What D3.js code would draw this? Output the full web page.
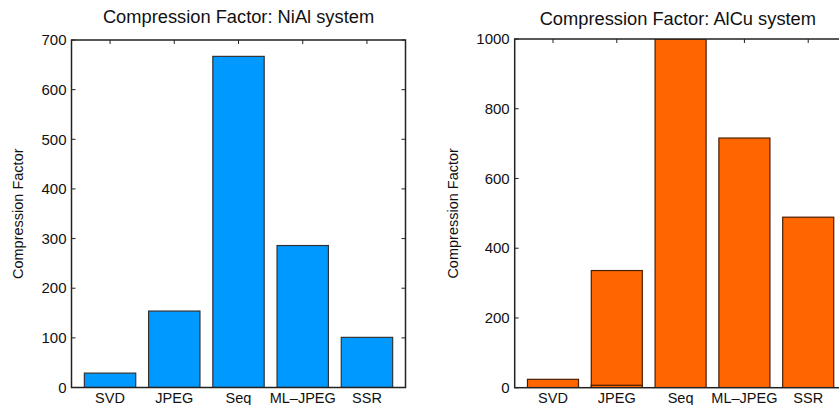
<!DOCTYPE html>
<html><head><meta charset="utf-8">
<script src="https://cdn.jsdelivr.net/npm/d3@7"></script>
<style>body{margin:0;background:#fff}svg{display:block}text{font-family:"Liberation Sans",Arial,sans-serif;fill:#111}</style>
</head><body>
<script>
const categories = ["SVD","JPEG","Seq","ML\u2013JPEG","SSR"];
const nialValues = [29, 154, 667, 286, 101];
const alcuValues = [24, 336, 1000, 716, 489];
const alcuInner  = [0, 7, 0, 0, 0];
const nialTicks = [0,100,200,300,400,500,600,700];
const alcuTicks = [0,200,400,600,800,1000];
const titles = ["Compression Factor: NiAl system","Compression Factor: AlCu system"];
const yLabel = "Compression Factor";

const W=839,H=405;
const svg=d3.select("body").append("svg").attr("width",W).attr("height",H);

function panel(cfg){
  const x=d3.scaleLinear().domain([0.4,5.6]).range([cfg.left,cfg.right]);
  const y=d3.scaleLinear().domain([0,cfg.max]).range([cfg.bottom,cfg.top]);
  const g=svg.append("g");
  const step=x(2)-x(1), bw=step*0.8;
  const clipId="clip"+cfg.id;
  svg.append("clipPath").attr("id",clipId).append("rect")
    .attr("x",cfg.left).attr("y",cfg.top).attr("width",cfg.right-cfg.left).attr("height",cfg.bottom-cfg.top);
  const tickLen=4;
  g.append("g").selectAll("line").data(categories).join("line")
    .attr("x1",(d,i)=>x(i+1)).attr("x2",(d,i)=>x(i+1))
    .attr("y1",cfg.top).attr("y2",cfg.top+tickLen).attr("stroke","#222").attr("stroke-width",1);
  g.append("g").selectAll("line").data(cfg.ticks).join("line")
    .attr("x1",cfg.left).attr("x2",cfg.left+tickLen).attr("y1",d=>y(d)).attr("y2",d=>y(d))
    .attr("stroke","#222");
  g.append("g").selectAll("line").data(cfg.ticks).join("line")
    .attr("x1",cfg.right).attr("x2",cfg.right-tickLen).attr("y1",d=>y(d)).attr("y2",d=>y(d))
    .attr("stroke","#222");
  const bars=g.append("g").attr("clip-path",`url(#${clipId})`);
  bars.selectAll("rect.b").data(cfg.values).join("rect").attr("class","b")
    .attr("x",(d,i)=>x(i+1)-bw/2).attr("width",bw)
    .attr("y",d=>y(d)).attr("height",d=>y(0)-y(d))
    .attr("fill",cfg.fill).attr("stroke",cfg.edge).attr("stroke-width",1.2);
  if(cfg.inner){
    bars.selectAll("rect.i").data(cfg.inner.map((v,i)=>({v,i})).filter(d=>d.v>0)).join("rect").attr("class","i")
      .attr("x",d=>x(d.i+1)-bw/2).attr("width",bw)
      .attr("y",d=>y(d.v)).attr("height",d=>y(0)-y(d.v))
      .attr("fill",cfg.fill).attr("stroke",cfg.edge).attr("stroke-width",1.2);
  }
  g.append("rect").attr("x",cfg.left).attr("y",cfg.top)
    .attr("width",cfg.right-cfg.left).attr("height",cfg.bottom-cfg.top)
    .attr("fill","none").attr("stroke","#222").attr("stroke-width",1.5);
  g.append("g").selectAll("text").data(cfg.ticks).join("text")
    .attr("x",cfg.left-5).attr("y",d=>y(d)).attr("dy","0.35em")
    .attr("text-anchor","end").attr("font-size",15).text(d=>d);
  g.append("g").selectAll("text").data(categories).join("text")
    .attr("x",(d,i)=>x(i+1)).attr("y",cfg.bottom+15.5)
    .attr("text-anchor","middle").attr("font-size",14.5).text(d=>d);
  g.append("text").attr("x",(cfg.left+Math.min(cfg.right,W))/2+cfg.titleDx).attr("y",cfg.titleY)
    .attr("text-anchor","middle").attr("font-size",18.3).text(cfg.title);
  g.append("text").attr("transform",`translate(${cfg.ylx},${(cfg.top+cfg.bottom)/2}) rotate(-90)`)
    .attr("text-anchor","middle").attr("font-size",14.5).text(yLabel);
}

panel({id:1,left:71.5,right:405.5,top:40,bottom:387.5,max:700,ticks:nialTicks,values:nialValues,
  fill:"#0099ff",edge:"#333",title:titles[0],titleY:23,titleDx:0,ylx:23});
panel({id:2,left:514.7,right:846.5,top:39,bottom:387.7,max:1000,ticks:alcuTicks,values:alcuValues,inner:alcuInner,
  fill:"#ff6600",edge:"#4a1e00",title:titles[1],titleY:25,titleDx:1,ylx:458});
</script>
</body></html>
